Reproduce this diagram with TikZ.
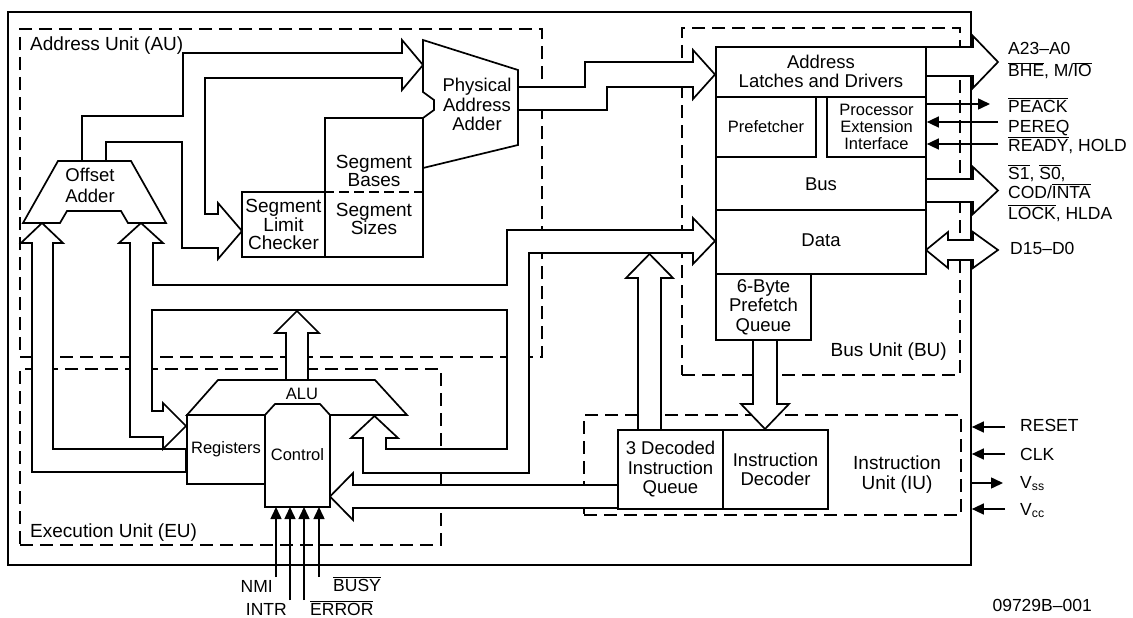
\documentclass[tikz,border=0pt]{standalone}
\usepackage{fontspec}
\setmainfont{Liberation Sans}
\usetikzlibrary{arrows.meta}
\newcommand\ovl[1]{$\overline{\hbox{#1}}$}
\newcommand\unitfont{\fontsize{19}{20}\selectfont}
\newcommand\boxfont{\fontsize{18.5}{19.5}\selectfont}
\newcommand\segfont{\fontsize{19}{17.5}\selectfont}
\newcommand\smallfont{\fontsize{16.5}{17}\selectfont}
\newcommand\pinfont{\fontsize{17.5}{20}\selectfont}

\begin{document}
\begin{tikzpicture}[x=1pt,y=-1pt,line join=miter,
  unit/.style={draw,line width=1.4pt,dash pattern=on 13pt off 7pt,inner sep=0pt},
  blk/.style={draw,line width=1.7pt,fill=white,inner sep=0pt},
  bus/.style={draw,line width=1.7pt,fill=white},
  lbl/.style={font=\boxfont,align=center,inner sep=0pt},
  pin/.style={line width=1.5pt,-{Triangle[length=12pt,width=11pt]}},
  pinlbl/.style={font=\pinfont,inner sep=0pt,anchor=base west}]
\useasboundingbox (0,0) rectangle (1133,618);

\node[draw,line width=1.7pt,minimum width=963pt,minimum height=553pt,inner sep=0pt] (chip) at (489.5,288.5) {};

\node[unit,minimum width=522pt,minimum height=328pt] (au) at (281,193) {};
\node[unit,minimum width=421pt,minimum height=176pt] (eu) at (230.5,457) {};
\node[unit,minimum width=278pt,minimum height=347pt] (bu) at (821,201.5) {};
\node[unit,minimum width=377pt,minimum height=100pt] (iu) at (772.5,465) {};

\draw[bus] (82,161) -- (82,116) -- (183,116) -- (183,53) -- (402,53) -- (402,40) -- (423,65)
  -- (402,90) -- (402,78) -- (205,78) -- (205,214) -- (218,214) -- (218,203) -- (242,231)
  -- (218,259) -- (218,248) -- (182,248) -- (182,142) -- (106,142) -- (106,161) -- cycle;
\draw[bus] (186,449) -- (53,449) -- (53,243) -- (63,243) -- (42,223) -- (21,243) -- (32,243)
  -- (32,472) -- (186,472) -- cycle;
\draw[bus] (693,230) -- (507,230) -- (507,285) -- (153,285) -- (153,243) -- (163,243) -- (141,223)
  -- (119,243) -- (130,243) -- (130,437) -- (163,437) -- (163,449) -- (186,426) -- (163,403)
  -- (163,411) -- (152,411) -- (152,310) -- (507,310) -- (507,449) -- (386,449) -- (386,438)
  -- (398,438) -- (374.5,416) -- (351,438) -- (363,438) -- (363,473) -- (529,473) -- (529,253)
  -- (693,253) -- (693,264) -- (715,241) -- (693,218) -- cycle;
\draw[bus] (286,380) -- (286,333) -- (275,333) -- (297,311) -- (319,333) -- (308,333) -- (308,380) -- cycle;
\draw[bus] (618,485) -- (353,485) -- (353,473) -- (330,496.5) -- (353,520) -- (353,508) -- (618,508) -- cycle;
\draw[bus] (638,430) -- (638,278) -- (626,278) -- (649.5,254) -- (673,278) -- (661,278) -- (661,430) -- cycle;
\draw[bus] (753,340) -- (753,404) -- (741,404) -- (765,429) -- (789,404) -- (777,404) -- (777,340) -- cycle;
\draw[bus] (518,87) -- (585,87) -- (585,62) -- (693,62) -- (693,50) -- (715,74.5) -- (693,99)
  -- (693,87) -- (607,87) -- (607,110) -- (518,110) -- cycle;
\draw[bus] (926,47) -- (973,47) -- (973,36) -- (998,62) -- (973,88) -- (973,76) -- (926,76) -- cycle;
\draw[bus] (926,179) -- (973,179) -- (973,167) -- (998,190.5) -- (973,214) -- (973,202) -- (926,202) -- cycle;
\draw[bus] (926,250) -- (948,232) -- (948,240) -- (973,240) -- (973,232) -- (998,250) -- (973,268)
  -- (973,260) -- (948,260) -- (948,268) -- cycle;

\draw[blk] (58,161) -- (131,161) -- (166,223) -- (128,223) -- (121,211) -- (67,211) -- (60,223) -- (23,223) -- cycle;
\node[lbl,font=\fontsize{18.5}{21}\selectfont] (oadd) at (90,185) {Offset\\Adder};
\node[blk,minimum width=98pt,minimum height=139pt] (seg) at (374,187.5) {};
\draw[line width=1.4pt,dash pattern=on 10pt off 5pt] (seg.west |- 0,192) -- (seg.east |- 0,192);
\node[lbl,font=\segfont] (segb) at (374,171) {Segment\\Bases};
\node[lbl,font=\segfont] (segs) at (374,219) {Segment\\Sizes};
\node[blk,lbl,font=\segfont,minimum width=83pt,minimum height=65pt] (slc) at (283.5,224.5) {Segment\\Limit\\Checker};
\draw[blk] (423,40) -- (518,70) -- (518,145) -- (423,168) -- (423,118) -- (434,110) -- (434,100) -- (423,92) -- cycle;
\node[lbl] (paa) at (477,104.5) {Physical\\Address\\Adder};

\draw[blk] (187,415) -- (218,380) -- (375,380) -- (407,415) -- cycle;
\node[lbl,font=\smallfont] (alu) at (302,394) {ALU};
\node[blk,lbl,font=\smallfont,minimum width=78pt,minimum height=69pt] (reg) at (226,449.5) {Registers};
\draw[blk] (265,415) -- (275,404) -- (320,404) -- (330,415) -- (330,507) -- (265,507) -- cycle;
\node[lbl,font=\smallfont] (ctl) at (297.5,455) {Control};

\node[blk,minimum width=210pt,minimum height=227pt] (biu) at (821,160.5) {};
\draw[line width=1.7pt] (biu.west |- 0,97) -- (biu.east |- 0,97);
\draw[line width=1.7pt] (biu.west |- 0,210) -- (biu.east |- 0,210);
\node[lbl] (latch) at (821,71.5) {Address\\Latches and Drivers};
\node[blk,lbl,font=\smallfont,minimum width=100pt,minimum height=60pt] (pref) at (766,127) {Prefetcher};
\node[blk,lbl,font=\smallfont,minimum width=99pt,minimum height=60pt] (pei) at (876.5,127) {Processor\\Extension\\Interface};
\node[lbl] (busb) at (821,184) {Bus};
\node[lbl] (data) at (821,240) {Data};
\node[blk,lbl,minimum width=95pt,minimum height=66pt] (pq) at (763.5,307) {6-Byte\\Prefetch\\Queue};

\node[blk,lbl,minimum width=105pt,minimum height=79pt] (iq) at (670.5,469.5) {3 Decoded\\Instruction\\Queue};
\node[blk,lbl,minimum width=105pt,minimum height=79pt] (idec) at (775.5,469.5) {Instruction\\Decoder};

\node[lbl,font=\unitfont,anchor=base west] (aul) at (30,51) {Address Unit (AU)};
\node[lbl,font=\unitfont,anchor=base west] (eul) at (30,537) {Execution Unit (EU)};
\node[lbl,font=\unitfont,anchor=base east] (bul) at (947,356) {Bus Unit (BU)};
\node[lbl,font=\fontsize{19}{20}\selectfont] (iul) at (897,475) {Instruction\\Unit (IU)};

\node[pinlbl] (addr) at (1008,55) {A23--A0};
\node[pinlbl] (bhe) at (1008,77) {\ovl{BHE}, M/\ovl{IO}};
\node[pinlbl] (peack) at (1008,112) {\ovl{PEACK}};
\node[pinlbl] (pereq) at (1008,132) {PEREQ};
\node[pinlbl] (ready) at (1008,151) {\ovl{READY}, HOLD};
\node[pinlbl] (sts) at (1008,179) {\ovl{S1}, \ovl{S0},};
\node[pinlbl] (cod) at (1008,198) {COD/\ovl{INTA}};
\node[pinlbl] (lock) at (1008,219) {\ovl{LOCK}, HLDA};
\node[pinlbl] (dat) at (1010,254) {D15--D0};
\node[pinlbl] (reset) at (1020,431) {RESET};
\node[pinlbl] (clk) at (1020,460) {CLK};
\node[pinlbl] (vss) at (1020,488) {V\textsubscript{ss}};
\node[pinlbl] (vcc) at (1020,515) {V\textsubscript{cc}};
\node[pinlbl,anchor=base east] (nmi) at (273,592) {NMI};
\node[pinlbl,anchor=base east] (intr) at (287,615) {INTR};
\node[pinlbl] (err) at (310,615) {\ovl{ERROR}};
\node[pinlbl] (busy) at (333,591) {\ovl{BUSY}};
\node[pinlbl,anchor=base east] (code) at (1092,611) {09729B--001};

\coordinate (pa) at (990,104);
\coordinate (pb) at (998,122);
\coordinate (pc) at (998,144);
\draw[pin] (pei.east |- pa) -- (pa);
\draw[pin] (pb) -- (pei.east |- pb);
\draw[pin] (pc) -- (pei.east |- pc);
\coordinate (ra) at (1005,427);
\coordinate (rb) at (1005,454);
\coordinate (rc) at (1003,483);
\coordinate (rd) at (1005,509);
\draw[pin] (ra) -- (chip.east |- ra);
\draw[pin] (rb) -- (chip.east |- rb);
\draw[pin] (chip.east |- rc) -- (rc);
\draw[pin] (rd) -- (chip.east |- rd);
\foreach \x/\y in {276/577,290/600,304/600,319/577}
  \draw[pin] (\x,\y) -- (\x,507);
\end{tikzpicture}
\end{document}
